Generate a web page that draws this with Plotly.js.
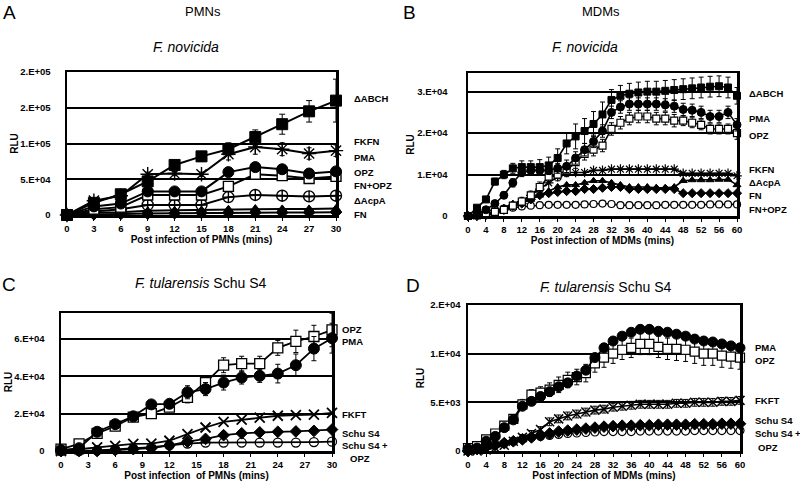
<!DOCTYPE html>
<html>
<head>
<meta charset="utf-8">
<script src="https://cdn.plot.ly/plotly-3.0.1.min.js"></script>
<style>html,body{margin:0;padding:0;background:#fff;}#chart{width:800px;height:491px;}</style>
</head>
<body>
<div id="chart"></div>
<script>
// ---------- Panel A : PMNs, F. novicida ----------
var A_x = [0,3,6,9,12,15,18,21,24,27,30];
var A_ABCH = [0,17000,29000,47000,70000,82000,92000,109000,127000,145000,160000];
var A_ABCH_err = [0,2000,2000,3000,5000,7000,9000,10000,14000,15000,30000];
var A_FKFN = [0,20000,27000,57000,58000,57000,85000,95000,92000,86000,90000];
var A_FKFN_err = [0,2000,2000,3000,3000,3000,8000,10000,9000,8000,8000];
var A_PMA = [0,12000,16000,33000,33000,33000,60000,67000,64000,58000,61000];
var A_OPZ = [0,8000,11000,28000,28000,28000,40000,57000,55000,51000,54000];
var A_FNOPZ = [0,5000,8000,14000,14000,14000,25000,28000,27000,26000,27000];
var A_AcpA = [0,3000,4000,6000,6500,7000,8000,9000,8500,8500,9000];
var A_FN = [0,1000,1500,2000,2500,3000,3000,3500,3500,3500,4000];
var A_yticks = [0,50000,100000,150000,200000];
var A_yticktext = ["0","5.E+04","1.E+05","2.E+05","2.E+05"];

// ---------- Panel B : MDMs, F. novicida ----------
var B_x = [0,2,4,6,8,10,12,14,16,18,20,22,24,26,28,30,32,34,36,38,40,42,44,46,48,50,52,54,56,58,60];
var B_ABCH = [0,2000,4000,8300,10000,11500,11800,11800,11800,12200,14000,17500,19200,20500,22200,24500,28000,29000,29500,29800,30000,30000,30200,30400,30600,30800,31000,31200,31300,31000,29000];
var B_ABCH_err = [0,300,500,800,1000,1200,1500,1500,1800,2000,2200,2500,3000,3000,3000,3000,2500,2500,2500,2500,2500,2500,2500,2500,2500,2500,2500,2500,2500,2500,2000];
var B_PMA = [0,500,1500,3000,5000,8000,10500,11000,11000,11000,11500,12000,14000,16000,18000,20500,25000,26300,27000,27000,27000,27000,26800,26500,25700,25500,25000,24000,24000,25000,22000];
var B_PMA_err = [0,200,300,500,800,1000,1000,1000,1000,1000,1200,1500,1500,1500,1500,1500,1500,1500,1500,1500,1500,1500,1500,1500,1500,1500,1500,1500,1500,1500,1500];
var B_OPZ = [0,200,500,1000,1500,2500,3500,5000,7000,9500,10000,11000,13000,15000,16000,17000,21000,22500,23500,24000,24000,23500,23500,23000,23000,22500,22000,21000,21000,21000,20000];
var B_OPZ_err = [0,100,200,300,500,800,1000,1000,1200,1500,1500,1500,1500,1500,1500,1500,1500,1500,1500,1500,1500,1500,1500,1500,1200,1200,1200,1200,1200,1200,1500];
var B_FKFN = [0,0,300,800,1500,2500,3500,5000,6500,8000,9500,10500,10500,10500,11000,11000,11300,11300,11300,11300,11300,11300,11300,11300,10300,10300,10300,10300,10300,10300,9700];
var B_AcpA = [0,0,500,1000,2000,3000,3500,4000,5000,6000,7000,7500,7500,8000,8500,8500,8000,7500,7000,7000,7000,6800,6800,7000,8500,8700,8700,8700,8800,8800,7500];
var B_FN = [0,0,300,800,1500,2500,3000,4000,5000,5500,5800,6000,6000,6500,6500,6800,7000,7000,6500,6500,6500,6500,6500,6500,5500,5500,5500,5500,5500,5500,5500];
var B_FNOPZ = [0,500,1000,1500,1800,2000,2300,2500,2600,2700,2700,2700,2700,2800,2900,3000,2900,2600,2600,2600,2600,2600,2700,2700,2700,2700,2700,2800,2800,2800,2800];
var B_yticks = [0,10000,20000,30000];
var B_yticktext = ["0","1.E+04","2.E+04","3.E+04"];

// ---------- Panel C : PMNs, F. tularensis Schu S4 ----------
var C_x = [0,2,4,6,8,10,12,14,16,18,20,22,24,26,28,30];
var C_OPZ = [1000,3800,9400,13300,18200,20000,23500,28800,36700,46000,46800,46800,55300,58800,61400,64900];
var C_OPZ_err = [500,800,1000,1000,1000,1500,1500,3000,3000,4000,4000,4000,4000,6000,6000,9000];
var C_PMA = [500,1500,10300,14400,18600,25000,25300,31500,33200,36700,39400,40300,41500,46000,54900,60500];
var C_PMA_err = [300,500,1000,1000,1000,1000,1500,3500,3500,4000,3500,3500,5000,6000,6500,8000];
var C_FKFT = [0,1000,2000,2700,3800,4000,5500,9000,12600,15600,16800,17900,18900,19200,19500,20400];
var C_SchuS4 = [0,0,0,500,1000,1500,3000,5000,6500,8500,9500,10000,10300,10500,10800,11500];
var C_SchuOPZ = [0,0,300,800,1200,2000,3000,4000,4500,4500,4500,4500,4500,4500,4800,5000];
var C_yticks = [0,20000,40000,60000];
var C_yticktext = ["0","2.E+04","4.E+04","6.E+04"];

// ---------- Panel D : MDMs, F. tularensis Schu S4 ----------
var D_x = [0,2,4,6,8,10,12,14,16,18,20,22,24,26,28,30,32,34,36,38,40,42,44,46,48,50,52,54,56,58,60];
var D_PMA = [200,300,1000,1500,2400,3200,4600,5100,5600,6100,6600,7000,7700,8300,9600,10600,11300,11800,12200,12500,12500,12300,12200,12000,11800,11500,11300,11200,11000,10800,10600];
var D_PMA_err = [100,100,200,200,300,300,300,300,300,300,300,300,300,300,300,300,300,300,300,300,300,300,300,300,300,300,300,300,300,300,300];
var D_OPZ = [300,500,1200,1800,2600,3300,4800,5800,6000,6300,6800,7300,7600,8000,9000,9600,10000,10400,10600,11000,11000,10700,10500,10500,10400,10200,10000,10000,9800,9700,9600];
var D_OPZ_err = [100,200,300,300,400,400,500,500,600,700,800,800,800,900,900,1000,1000,1000,1000,1100,1100,1100,1100,1200,1200,1200,1200,1200,1200,1200,1200];
var D_FKFT = [0,0,100,300,600,1000,1400,1800,2200,3000,3300,3600,3800,4000,4200,4300,4500,4600,4700,4800,4800,4800,4800,4900,4900,5000,5000,5000,5100,5100,5200];
var D_FKFT_err = [0,0,100,100,200,200,300,300,300,400,400,400,400,400,400,400,400,400,400,400,400,400,400,400,400,400,400,400,400,400,400];
var D_SchuS4 = [0,200,400,600,800,1000,1200,1400,1600,1800,2000,2100,2200,2300,2400,2500,2550,2600,2600,2650,2650,2700,2700,2700,2700,2750,2750,2750,2800,2800,2800];
var D_SchuOPZ = [300,500,600,700,800,1000,1200,1400,1500,1600,1700,1800,1850,1900,1950,2000,2000,2000,2000,2050,2050,2050,2050,2050,2050,2100,2100,2100,2100,2100,2100];
var D_yticks = [0,5000,10000,15000];
var D_yticktext = ["0","5.E+03","1.E+04","2.E+04"];

// ---------- helpers ----------
var W = 800, H = 491;
var FONT = "Liberation Sans, Arial, sans-serif";
function px(x){ return x / W; }
function py(y){ return 1 - y / H; }

function tr(n, x, y, sym, size, opts) {
  opts = opts || {};
  var t = {
    x: x, y: y, xaxis: 'x' + n, yaxis: 'y' + n,
    type: 'scatter', mode: 'lines+markers', showlegend: false, cliponaxis: false,
    line: {color: 'black', width: opts.lw || 1.6},
    marker: {symbol: sym, size: size, color: opts.fill || 'black',
             line: {color: 'black', width: opts.mlw || 1}},
    hoverinfo: 'x+y'
  };
  if (opts.err) {
    t.error_y = {type: 'data', array: opts.err, visible: true, color: 'black', thickness: 1, width: opts.ew || 2.5};
  }
  return t;
}

var data = [
  // A
  tr('', A_x, A_FN, 'diamond', 9, {lw: 2}),
  tr('', A_x, A_AcpA, 'triangle-up', 8, {lw: 2}),
  tr('', A_x, A_FNOPZ, 'circle-cross-open', 11, {lw: 2, mlw: 1.4}),
  tr('', A_x, A_OPZ, 'square', 10, {lw: 2, fill: 'white', mlw: 1.4}),
  tr('', A_x, A_PMA, 'circle', 11, {lw: 2}),
  tr('', A_x, A_FKFN, 'asterisk-open', 12, {lw: 2, mlw: 1.4, err: A_FKFN_err}),
  tr('', A_x, A_ABCH, 'square', 11, {lw: 2, err: A_ABCH_err, ew: 3}),
  // B
  tr('2', B_x, B_FNOPZ, 'circle', 7, {fill: 'white', mlw: 1.2}),
  tr('2', B_x, B_FN, 'diamond', 7),
  tr('2', B_x, B_AcpA, 'triangle-up', 7),
  tr('2', B_x, B_FKFN, 'asterisk-open', 8, {mlw: 1.2}),
  tr('2', B_x, B_OPZ, 'square', 7, {fill: 'white', mlw: 1.2, err: B_OPZ_err}),
  tr('2', B_x, B_PMA, 'circle', 8, {err: B_PMA_err}),
  tr('2', B_x, B_ABCH, 'square', 7, {err: B_ABCH_err}),
  // C
  tr('3', C_x, C_SchuOPZ, 'circle-open', 9, {lw: 1.8, mlw: 1.3}),
  tr('3', C_x, C_SchuS4, 'diamond', 9, {lw: 1.8}),
  tr('3', C_x, C_FKFT, 'x-thin-open', 10, {lw: 1.8, mlw: 1.8}),
  tr('3', C_x, C_OPZ, 'square', 10, {lw: 1.8, fill: 'white', mlw: 1.3, err: C_OPZ_err}),
  tr('3', C_x, C_PMA, 'circle', 11, {lw: 1.8, err: C_PMA_err}),
  // D
  tr('4', D_x, D_SchuOPZ, 'circle', 8, {fill: 'white', mlw: 1.2}),
  tr('4', D_x, D_SchuS4, 'diamond', 9),
  tr('4', D_x, D_FKFT, 'x-thin-open', 9, {mlw: 1.5, err: D_FKFT_err}),
  tr('4', D_x, D_OPZ, 'square', 9, {fill: 'white', mlw: 1.2, err: D_OPZ_err}),
  tr('4', D_x, D_PMA, 'circle', 10, {err: D_PMA_err})
];

function xa(dom, range, tickstep, title, anchor) {
  return {
    domain: dom, range: range, anchor: anchor, dtick: tickstep, tick0: 0,
    showline: true, mirror: true, linecolor: 'black', linewidth: 2.5,
    showgrid: false, zeroline: false,
    ticks: 'outside', ticklen: 3, tickcolor: 'black', tickwidth: 1,
    tickfont: {family: FONT, size: 9.5, color: 'black', weight: 'bold'},
    title: {text: title, font: {family: FONT, size: 10, color: 'black', weight: 'bold'}, standoff: 2},
    fixedrange: true
  };
}
function ya(dom, range, vals, texts, anchor, standoff, tstand) {
  return {
    domain: dom, range: range, anchor: anchor,
    tickmode: 'array', tickvals: vals, ticktext: texts,
    showline: true, mirror: true, linecolor: 'black', linewidth: 2.5,
    showgrid: true, gridcolor: 'black', gridwidth: 2, zeroline: false,
    ticks: '', ticklabelstandoff: standoff,
    tickfont: {family: FONT, size: 9.5, color: 'black', weight: 'bold'},
    title: {text: 'RLU', font: {family: FONT, size: 10, color: 'black', weight: 'bold'}, standoff: tstand},
    fixedrange: true
  };
}

var layout = {
  width: W, height: H, margin: {l: 0, r: 0, t: 0, b: 0},
  paper_bgcolor: 'white', plot_bgcolor: 'white',
  font: {family: FONT, color: 'black'},
  xaxis:  xa([px(67), px(336)], [0, 30], 3, 'Post infection of PMNs (mins)', 'y'),
  yaxis:  ya([py(215), py(72)], [0, 200000], A_yticks, A_yticktext, 'x', 12, 0),
  xaxis2: xa([px(468), px(737)], [0, 60], 4, 'Post infection of MDMs (mins)', 'y2'),
  yaxis2: ya([py(216), py(73)], [0, 34500], B_yticks, B_yticktext, 'x2', 16, 1),
  xaxis3: xa([px(61), px(332)], [0, 30], 3, 'Post infection  of PMNs (mins)', 'y3'),
  yaxis3: ya([py(451), py(313)], [0, 74000], C_yticks, C_yticktext, 'x3', 12, 0),
  xaxis4: xa([px(468), px(740)], [0, 60], 4, 'Post infection of MDMs (mins)', 'y4'),
  yaxis4: ya([py(451), py(305)], [0, 15000], D_yticks, D_yticktext, 'x4', 3, 4),
  annotations: []
};

function ann(text, x, y, size, opts) {
  opts = opts || {};
  layout.annotations.push({
    text: text, xref: 'paper', yref: 'paper', x: px(x), y: py(y),
    xanchor: opts.xa || 'center', yanchor: 'middle', showarrow: false,
    font: {family: FONT, size: size, color: 'black', weight: opts.bold ? 'bold' : 'normal'}
  });
}
// panel letters and titles
ann('A', 9, 13, 19); ann('B', 409, 13, 19); ann('C', 9, 284, 19); ann('D', 413, 285, 19);
ann('PMNs', 203, 12, 13); ann('MDMs', 601, 12, 13);
ann('<i>F. novicida</i>', 186, 47, 14);
ann('<i>F. novicida</i>', 585, 47, 14);
ann('<i>F. tularensis</i> Schu S4', 200, 283, 14);
ann('<i>F. tularensis</i> Schu S4', 605, 287, 14);
// series labels (right of each panel)
var labA = [['\u0394ABCH', 98], ['FKFN', 142], ['PMA', 157], ['OPZ', 172], ['FN+OPZ', 185], ['\u0394AcpA', 200], ['FN', 215]];
labA.forEach(function (l) { ann(l[0], 352, l[1], 9.5, {xa: 'left', bold: true}); });
var labB = [['\u0394ABCH', 93], ['PMA', 119], ['OPZ', 135], ['FKFN', 170], ['\u0394AcpA', 182], ['FN', 195], ['FN+OPZ', 209]];
labB.forEach(function (l) { ann(l[0], 747, l[1], 9.5, {xa: 'left', bold: true}); });
var labC = [['OPZ', 329], ['PMA', 341], ['FKFT', 414], ['Schu S4', 433], ['Schu S4 +', 445]];
labC.forEach(function (l) { ann(l[0], 340, l[1], 9.5, {xa: 'left', bold: true}); });
ann('OPZ', 348, 458, 9.5, {xa: 'left', bold: true});
var labD = [['PMA', 347], ['OPZ', 360], ['FKFT', 400], ['Schu S4', 420], ['Schu S4 +', 433]];
labD.forEach(function (l) { ann(l[0], 753, l[1], 9.5, {xa: 'left', bold: true}); });
ann('OPZ', 756, 447, 9.5, {xa: 'left', bold: true});

Plotly.newPlot('chart', data, layout, {displayModeBar: false, staticPlot: true});
</script>
</body>
</html>
